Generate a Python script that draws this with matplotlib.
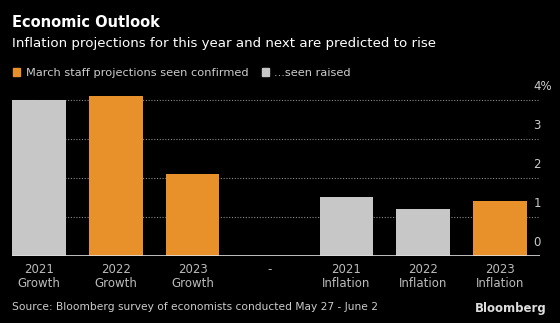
import matplotlib.pyplot as plt
import matplotlib.transforms as mtransforms
import numpy as np

# donnees
categories = ["2021\nGrowth", "2022\nGrowth", "2023\nGrowth", "-",
              "2021\nInflation", "2022\nInflation", "2023\nInflation"]
values = [4.0, 4.1, 2.1, 0.0, 1.5, 1.2, 1.4]
status = ["raised", "confirmed", "confirmed", "none", "raised", "raised", "confirmed"]
y_ticks = [0, 1, 2, 3, 4]
y_labels = ["0", "1", "2", "3", "4%"]

orange = "#e8912a"
grey = "#c7c7c7"
colors = {"confirmed": orange, "raised": grey, "none": "black"}

plt.rcParams['font.family'] = ['DejaVu Sans']

fig = plt.figure(figsize=(5.6, 3.23), dpi=100, facecolor="black")
ax = fig.add_axes([0.0215, 0.2074, 0.943, 0.508])
ax.set_facecolor("black")

x = np.arange(len(categories))
ax.bar(x, values, width=0.697, color=[colors[s] for s in status], zorder=2)

ax.set_xlim(-0.3485, 6.52)
ax.set_ylim(0, 4.2)

# grille pointillee
for t in y_ticks[1:]:
    ax.axhline(t, color="#8a8a8a", lw=0.8, ls=(0, (1, 1.5)), zorder=1)
ax.axhline(0, color="#e0e0e0", lw=1.2, zorder=3)

# etiquettes de l'axe y, au-dessus des lignes, a droite
ax.set_yticks([])
off = mtransforms.offset_copy(ax.get_yaxis_transform(), fig=fig, x=0, y=5, units="points")
for t, lab in zip(y_ticks, y_labels):
    ax.text(0.987, t, lab, transform=off, color="#cccccc", fontsize=8.5,
            ha="left", va="bottom")

ax.set_xticks(x)
ax.set_xticklabels(categories, color="#bbbbbb", fontsize=8.5, linespacing=1.15)
ax.tick_params(axis="x", length=0, pad=5)

for s in ax.spines.values():
    s.set_visible(False)

# titres
fig.text(0.021, 0.915, "Economic Outlook", color="white", fontsize=10.5, fontweight="bold")
fig.text(0.021, 0.855, "Inflation projections for this year and next are predicted to rise",
         color="white", fontsize=9.6)

# legende
fig.patches.append(plt.Rectangle((0.023, 0.764), 0.013, 0.026, color=orange,
                                 transform=fig.transFigure, figure=fig))
fig.text(0.046, 0.764, "March staff projections seen confirmed", color="#cccccc", fontsize=8.2)
fig.patches.append(plt.Rectangle((0.468, 0.764), 0.013, 0.026, color=grey,
                                 transform=fig.transFigure, figure=fig))
fig.text(0.490, 0.764, "...seen raised", color="#cccccc", fontsize=8.2)

fig.text(0.021, 0.04, "Source: Bloomberg survey of economists conducted May 27 - June 2",
         color="#cccccc", fontsize=7.7)
fig.text(0.977, 0.035, "Bloomberg", color="#dddddd", fontsize=8.5, fontweight="bold", ha="right")

fig.savefig("out.png", dpi=100, facecolor="black")
